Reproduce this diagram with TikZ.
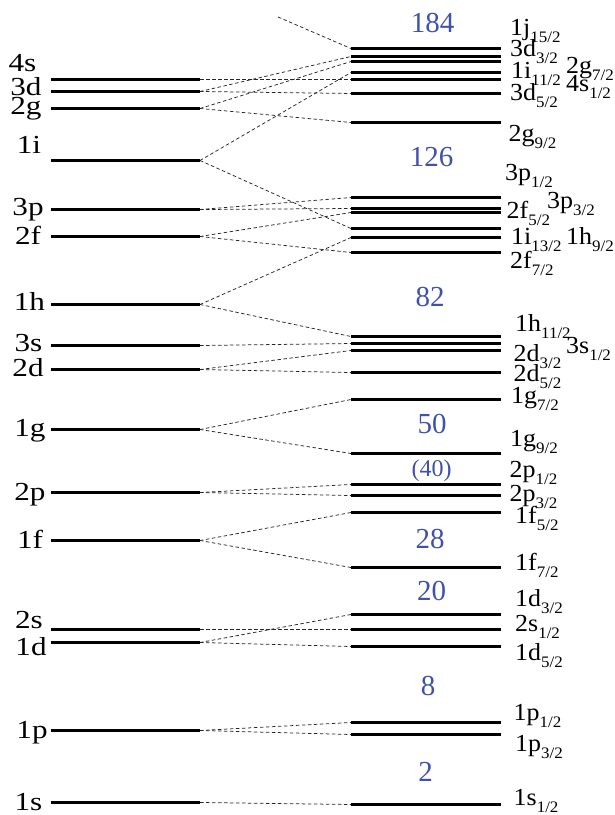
\documentclass[tikz,border=0pt]{standalone}
\usepackage{fontspec}
\setmainfont{Liberation Serif}
\usepackage{graphicx}
\definecolor{magicblue}{RGB}{63,81,170}
\newcommand\lvsub[1]{\raisebox{-7pt}{\fontsize{16}{16}\selectfont #1}}
\newcommand\Llev[2]{\coordinate (#1a) at (51,#2); \coordinate (#1) at (200,#2); \draw[lev] (#1a) -- (#1);}
\newcommand\Rlev[2]{\coordinate (#1) at (351,#2); \coordinate (#1b) at (501,#2); \draw[lev] (#1) -- (#1b);}
\newcommand\Llab[4]{\node[llbl] (#1) at (#3,#4) {\scalebox{1.2}[1]{#2}};}
\newcommand\Rlab[5]{\node[rlbl] (#1) at (#4,#5) {\scalebox{1.06}[1]{#2\lvsub{#3}}};}
\newcommand\Mnum[4]{\node[magicnum] (#1) at (#3,#4) {#2};}
\begin{document}
\begin{tikzpicture}[x=1pt,y=-1pt,
  lev/.style={line width=2.7pt},
  conn/.style={line width=0.75pt, dash pattern=on 3.5pt off 2.5pt, black!85},
  llbl/.style={inner sep=0pt, anchor=base, font=\fontsize{26}{26}\selectfont},
  rlbl/.style={inner sep=0pt, anchor=base west, font=\fontsize{24.5}{24.5}\selectfont},
  magicnum/.style={inner sep=0pt, anchor=base, text=magicblue, font=\fontsize{29}{29}\selectfont}]
\useasboundingbox (0,0) rectangle (615,815);
% left levels
\Llev{L4s}{79.5}
\Llev{L3d}{91.5}
\Llev{L2g}{108.5}
\Llev{L1i}{160.5}
\Llev{L3p}{209.5}
\Llev{L2f}{236.5}
\Llev{L1h}{304.5}
\Llev{L3s}{345.5}
\Llev{L2d}{369.5}
\Llev{L1g}{429.5}
\Llev{L2p}{492.5}
\Llev{L1f}{540.5}
\Llev{L2s}{629.5}
\Llev{L1d}{642.5}
\Llev{L1p}{730.5}
\Llev{L1s}{802.5}
% right levels
\Rlev{R1j15}{48.5}
\Rlev{R3d3}{56.5}
\Rlev{R2g7}{61.5}
\Rlev{R1i11}{72.5}
\Rlev{R4s1}{79.5}
\Rlev{R3d5}{93.5}
\Rlev{R2g9}{122.5}
\Rlev{R3p1}{197.5}
\Rlev{R3p3}{208.5}
\Rlev{R2f5}{212.5}
\Rlev{R1i13}{228.5}
\Rlev{R1h9}{237.5}
\Rlev{R2f7}{252.5}
\Rlev{R1h11}{336.5}
\Rlev{R3s1}{343.5}
\Rlev{R2d3}{350.5}
\Rlev{R2d5}{372.5}
\Rlev{R1g7}{399.5}
\Rlev{R1g9}{453.5}
\Rlev{R2p1}{484.5}
\Rlev{R2p3}{495.5}
\Rlev{R1f5}{512.5}
\Rlev{R1f7}{567.5}
\Rlev{R1d3}{614.5}
\Rlev{R2s1}{629.5}
\Rlev{R1d5}{646.5}
\Rlev{R1p1}{722.5}
\Rlev{R1p3}{734.5}
\Rlev{R1s1}{804.5}
\coordinate (J1) at (278,17);
% connectors
\foreach \a/\b in {J1/R1j15, L4s/R4s1, L3d/R3d3, L3d/R3d5, L2g/R2g7, L2g/R2g9,
  L1i/R1i11, L1i/R1i13, L3p/R3p1, L3p/R3p3, L2f/R2f5, L2f/R2f7,
  L1h/R1h9, L1h/R1h11, L3s/R3s1, L2d/R2d3, L2d/R2d5, L1g/R1g7, L1g/R1g9,
  L2p/R2p1, L2p/R2p3, L1f/R1f5, L1f/R1f7, L2s/R2s1, L1d/R1d3, L1d/R1d5,
  L1p/R1p1, L1p/R1p3, L1s/R1s1}
  \draw[conn] (\a) -- (\b);
% left labels
\Llab{tL4s}{4s}{22.5}{71.7}
\Llab{tL3d}{3d}{26}{95}
\Llab{tL2g}{2g}{26}{114}
\Llab{tL1i}{1i}{29}{153.3}
\Llab{tL3p}{3p}{28}{215}
\Llab{tL2f}{2f}{28}{244}
\Llab{tL1h}{1h}{29.5}{310.7}
\Llab{tL3s}{3s}{28.5}{351.7}
\Llab{tL2d}{2d}{28}{376.7}
\Llab{tL1g}{1g}{30}{436}
\Llab{tL2p}{2p}{30}{500}
\Llab{tL1f}{1f}{30}{548}
\Llab{tL2s}{2s}{29}{628}
\Llab{tL1d}{1d}{31}{655}
\Llab{tL1p}{1p}{32}{738}
\Llab{tL1s}{1s}{28.5}{810}
% right labels
\Rlab{tR1j15}{1j}{15/2}{510}{35}
\Rlab{tR3d3}{3d}{3/2}{510}{56.7}
\Rlab{tR2g7}{2g}{7/2}{566}{73.3}
\Rlab{tR1i11}{1i}{11/2}{511}{78.3}
\Rlab{tR4s1}{4s}{1/2}{566}{91.7}
\Rlab{tR3d5}{3d}{5/2}{510}{100}
\Rlab{tR2g9}{2g}{9/2}{508.5}{141.7}
\Rlab{tR3p1}{3p}{1/2}{505}{180}
\Rlab{tR3p3}{3p}{3/2}{547}{208.3}
\Rlab{tR2f5}{2f}{5/2}{506.5}{218.3}
\Rlab{tR1i13}{1i}{13/2}{511}{244}
\Rlab{tR1h9}{1h}{9/2}{566}{244}
\Rlab{tR2f7}{2f}{7/2}{510}{268.3}
\Rlab{tR1h11}{1h}{11/2}{515}{331.7}
\Rlab{tR3s1}{3s}{1/2}{566}{353.3}
\Rlab{tR2d3}{2d}{3/2}{513.5}{361.7}
\Rlab{tR2d5}{2d}{5/2}{513.5}{381.7}
\Rlab{tR1g7}{1g}{7/2}{511}{403.3}
\Rlab{tR1g9}{1g}{9/2}{510}{446.7}
\Rlab{tR2p1}{2p}{1/2}{509.5}{477}
\Rlab{tR2p3}{2p}{3/2}{509.5}{501.7}
\Rlab{tR1f5}{1f}{5/2}{515}{523}
\Rlab{tR1f7}{1f}{7/2}{515}{570}
\Rlab{tR1d3}{1d}{3/2}{515}{606.7}
\Rlab{tR2s1}{2s}{1/2}{515}{631.7}
\Rlab{tR1d5}{1d}{5/2}{515}{660}
\Rlab{tR1p1}{1p}{1/2}{513.5}{720}
\Rlab{tR1p3}{1p}{3/2}{515}{751.7}
\Rlab{tR1s1}{1s}{1/2}{513.5}{805}
% magic numbers
\Mnum{m184}{184}{432.5}{32}
\Mnum{m126}{126}{431.5}{166.7}
\Mnum{m82}{82}{430}{306.7}
\Mnum{m50}{50}{432}{433}
\node[magicnum, font=\fontsize{24}{24}\selectfont] (m40) at (431.5,476) {(40)};
\Mnum{m28}{28}{430}{548}
\Mnum{m20}{20}{431.5}{600}
\Mnum{m8}{8}{428}{695}
\Mnum{m2}{2}{425.5}{781.7}
\end{tikzpicture}
\end{document}
